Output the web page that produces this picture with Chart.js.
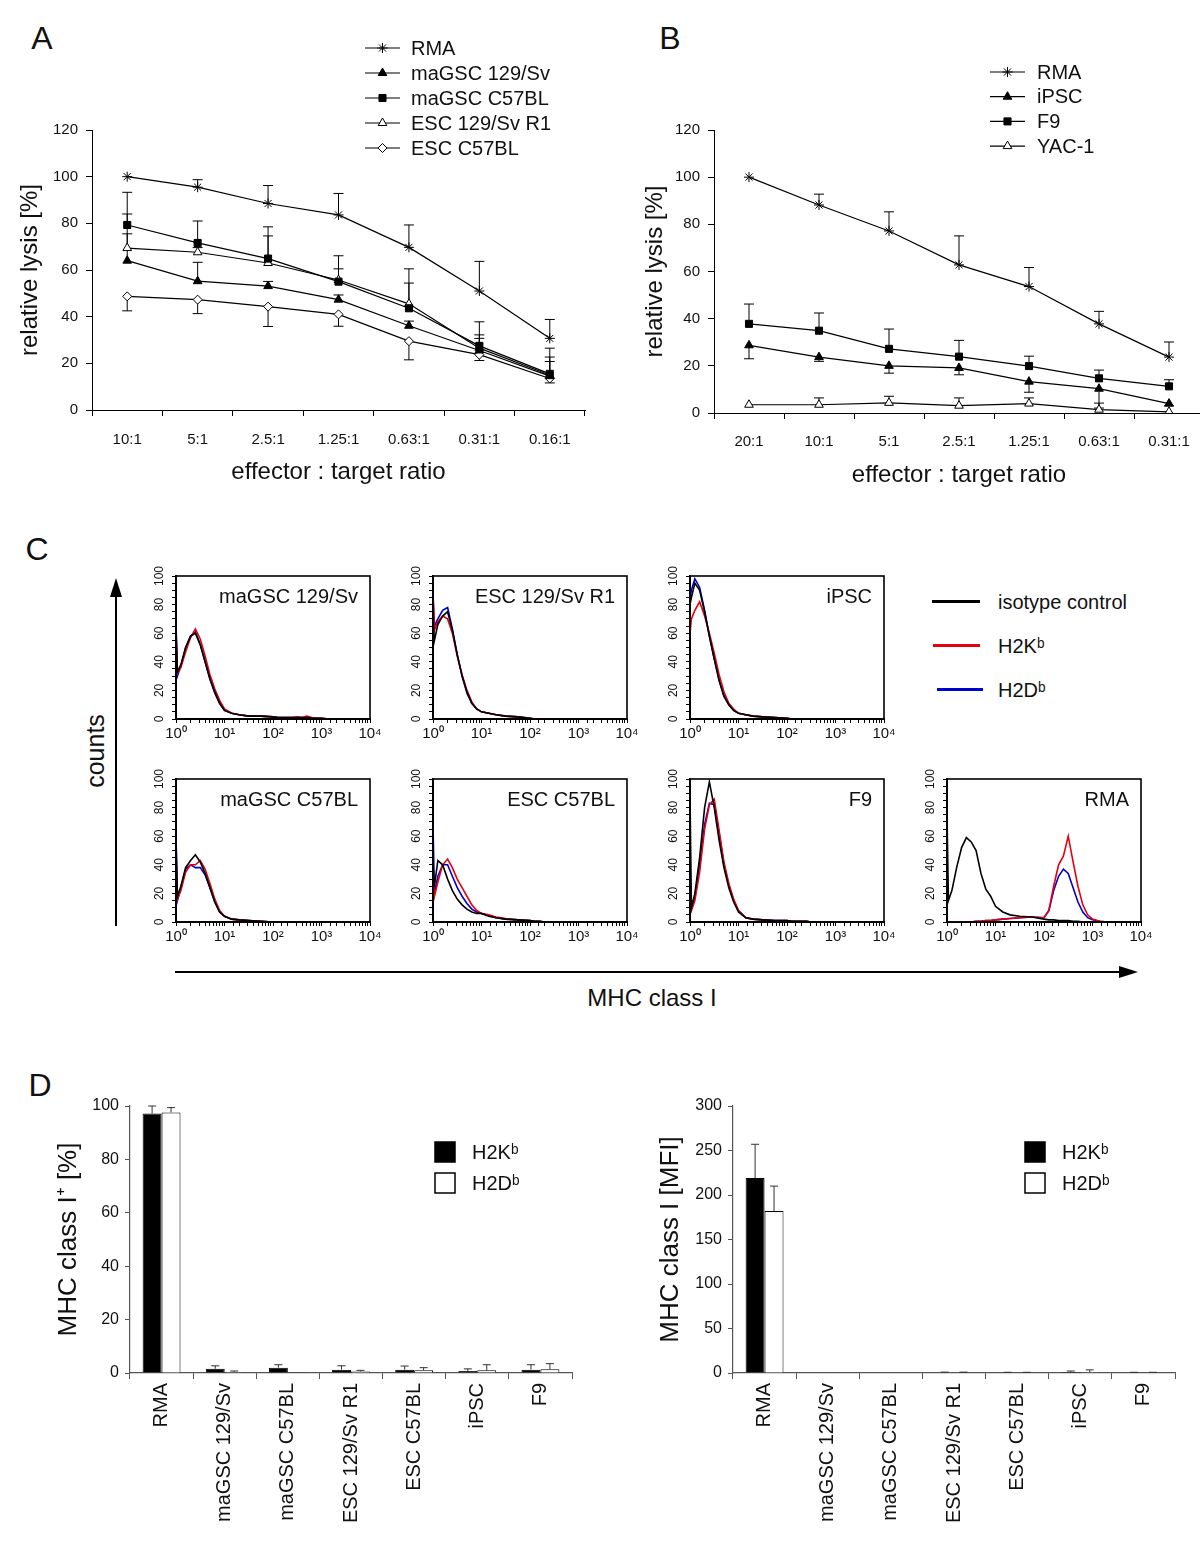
<!DOCTYPE html>
<html>
<head>
<meta charset="utf-8">
<script src="https://cdn.jsdelivr.net/npm/chart.js@4.4.1/dist/chart.umd.min.js"></script>
<style>
html, body { margin: 0; padding: 0; width: 1200px; height: 1549px; overflow: hidden; background: #fff; }
body { position: relative; font-family: "Liberation Sans", Arial, Helvetica, sans-serif; color: #111; }
canvas { position: absolute; }
.t { position: absolute; white-space: nowrap; transform: translate(-50%, -50%); line-height: 1; }
.l { position: absolute; white-space: nowrap; transform: translate(0, -50%); line-height: 1; }
.letter { font-size: 32px; }
.seg { position: absolute; height: 3px; }
</style>
</head>
<body>

<div class="t letter" style="left:42px;top:38px">A</div>
<div class="t letter" style="left:670px;top:38px">B</div>
<div class="t letter" style="left:37px;top:549px">C</div>
<div class="t letter" style="left:40px;top:1085px">D</div>

<canvas id="chartA" width="600" height="500" style="left:0;top:0"></canvas>
<canvas id="chartB" width="610" height="500" style="left:600px;top:0"></canvas>

<canvas id="h0" width="255" height="191"></canvas>
<canvas id="h1" width="255" height="191"></canvas>
<canvas id="h2" width="255" height="191"></canvas>
<canvas id="h3" width="255" height="191"></canvas>
<canvas id="h4" width="255" height="191"></canvas>
<canvas id="h5" width="255" height="191"></canvas>
<canvas id="h6" width="255" height="191"></canvas>

<!-- panel C legend and axis arrows -->
<div class="seg" style="left:932px;top:600px;width:48px;background:#000"></div>
<div class="seg" style="left:933px;top:644px;width:47px;background:#e3000f"></div>
<div class="seg" style="left:937px;top:688px;width:46px;background:#0000cc"></div>
<div class="l" style="left:998px;top:602px;font-size:20px">isotype control</div>
<div class="l" style="left:998px;top:646px;font-size:20px">H2Kᵇ</div>
<div class="l" style="left:998px;top:690px;font-size:20px">H2Dᵇ</div>
<div class="t" style="left:95px;top:751px;font-size:25px;transform:translate(-50%,-50%) rotate(-90deg)">counts</div>
<div class="t" style="left:652px;top:998px;font-size:24px">MHC class I</div>
<svg width="1200" height="1549" style="position:absolute;left:0;top:0">
  <line x1="116" y1="926" x2="116" y2="592" stroke="#000" stroke-width="2"/>
  <polygon points="116,578 110,597 122,597" fill="#000"/>
  <line x1="175" y1="972" x2="1124" y2="972" stroke="#000" stroke-width="2"/>
  <polygon points="1138,972 1119,966 1119,978" fill="#000"/>
</svg>

<canvas id="chartD1" width="600" height="459" style="left:0;top:1090px"></canvas>
<canvas id="chartD2" width="600" height="459" style="left:600px;top:1090px"></canvas>

<script>
// Panel A: relative lysis by effector : target ratio
const ratiosA = ['10:1', '5:1', '2.5:1', '1.25:1', '0.63:1', '0.31:1', '0.16:1'];
const rmaA = [100, 95.5, 88.5, 83.6, 69.7, 51, 30.7];
const rmaAErr = [0, 3.2, 7.7, 9.2, 9.6, 12.7, 8.1];
const magsc129A = [64, 55.2, 53.1, 47.3, 36.1, 25.5, 14.5];
const magsc129AErr = [11.5, 8.1, 2, 2, 2, 5.2, 6.3];
const magscB6A = [79.3, 71.6, 64.9, 55, 43.6, 27.5, 15.5];
const magscB6AErr = [14, 9.4, 13.6, 11.1, 16.9, 10.3, 11];
const esc129A = [69.4, 67.6, 63, 55.7, 45.5, 26.5, 15];
const esc129AErr = [14.6, 2, 11.6, 4.8, 8.9, 5.7, 7.7];
const escB6A = [48.7, 47.3, 44.3, 41, 29.5, 23.7, 13.5];
const escB6AErr = [6.2, 6, 8.5, 5.1, 8, 2.5, 1.9];   // drawn downwards

// Panel B
const ratiosB = ['20:1', '10:1', '5:1', '2.5:1', '1.25:1', '0.63:1', '0.31:1'];
const rmaB = [100, 88.2, 77.2, 62.8, 53.6, 37.8, 23.7];
const rmaBErr = [0, 4.6, 8.1, 12.3, 8.1, 5.3, 6.4];
const ipscB = [28.7, 23.7, 20, 19.1, 13.3, 10.3, 4];
const ipscBErr = [5.7, 1.8, 3.1, 2.9, 4.5, 8.2, 1];   // drawn downwards
const f9B = [37.8, 34.9, 27.2, 23.9, 19.9, 14.7, 11.3];
const f9BErr = [8.4, 7.5, 8.4, 6.9, 4.2, 3.5, 2.8];
const yacB = [3.5, 3.5, 4.3, 3.1, 4, 1.4, 0.5];
const yacBErr = [0, 2.9, 2.8, 3.3, 2.4, 2.8, 0];

// Panel C: flow histograms (counts at each fluorescence value)
const histNames = ['maGSC 129/Sv', 'ESC 129/Sv R1', 'iPSC', 'maGSC C57BL', 'ESC C57BL', 'F9', 'RMA'];
const histX = [1, 1.07, 1.26, 1.58, 2, 2.51, 3.16, 3.98, 5.01, 6.31, 7.94, 10, 14.1, 20, 31.6, 56.2, 100, 126, 158, 200, 251, 316, 398, 501, 631, 794, 1000, 1413, 1995, 3981, 10000];
const decadeTicks = ['10⁰', '10¹', '10²', '10³', '10⁴'];
const histYTicks = [0, 20, 40, 60, 80, 100];

const isoMagsc129 = [62, 33, 38, 50, 58, 60, 52, 40, 28, 19, 11, 6, 4, 3, 2, 2, 1.5, 1, 1, 1, 1, 1, 1, 1, 0.5, 0.5, 0.5, 0, 0, 0, 0];
const kbMagsc129 = [60, 32, 36, 47, 57, 63, 56, 44, 31, 21, 13, 7, 4, 3, 2, 2, 1.5, 1, 1, 1, 1, 1.5, 1, 2, 1, 0.5, 0.5, 0, 0, 0, 0];
const dbMagsc129 = [67, 30, 37, 50, 58, 61, 52, 40, 28, 18, 11, 6, 4, 3, 2, 2, 1.5, 1, 1, 1, 1, 1, 1, 1, 0.5, 0.5, 0.5, 0, 0, 0, 0];

const isoEsc129 = [70, 55, 66, 72, 75, 62, 45, 30, 19, 11, 7, 5, 4, 3, 2, 1.5, 0.5, 0, 0, 0, 0, 0, 0, 0, 0, 0, 0, 0, 0, 0, 0];
const kbEsc129 = [85, 62, 68, 72, 70, 60, 44, 31, 20, 12, 7, 5, 4, 3, 2, 1.5, 0.5, 0, 0, 0, 0, 0, 0, 0, 0, 0, 0, 0, 0, 0, 0];
const dbEsc129 = [88, 65, 70, 76, 78, 63, 45, 30, 18, 11, 7, 5, 4, 3, 2, 1.5, 0.5, 0, 0, 0, 0, 0, 0, 0, 0, 0, 0, 0, 0, 0, 0];

const isoIpsc = [80, 85, 95, 90, 75, 58, 42, 27, 16, 10, 6, 4, 3, 2, 1.5, 1, 0.5, 0, 0, 0, 0, 0, 0, 0, 0, 0, 0, 0, 0, 0, 0];
const kbIpsc = [60, 70, 76, 82, 72, 60, 46, 31, 19, 11, 7, 4, 3, 2, 1.5, 1, 0.5, 0, 0, 0, 0, 0, 0, 0, 0, 0, 0, 0, 0, 0, 0];
const dbIpsc = [85, 90, 98, 92, 76, 58, 42, 27, 16, 10, 6, 4, 3, 2, 1.5, 1, 0.5, 0, 0, 0, 0, 0, 0, 0, 0, 0, 0, 0, 0, 0, 0];

const isoMagscB6 = [55, 18, 25, 38, 43, 47, 42, 34, 24, 14, 7, 4, 2, 1.5, 1, 0.5, 0, 0, 0, 0, 0, 0, 0, 0, 0, 0, 0, 0, 0, 0, 0];
const kbMagscB6 = [50, 16, 22, 35, 40, 40, 43, 37, 27, 16, 8, 4, 2, 1.5, 1, 0.5, 0, 0, 0, 0, 0, 0, 0, 0, 0, 0, 0, 0, 0, 0, 0];
const dbMagscB6 = [61, 15, 24, 37, 40, 38, 38, 33, 24, 14, 7, 4, 2, 1.5, 1, 0.5, 0, 0, 0, 0, 0, 0, 0, 0, 0, 0, 0, 0, 0, 0, 0];

const isoEscB6 = [40, 25, 43, 40, 30, 22, 16, 12, 9, 7, 6, 6, 4, 3, 2, 1.5, 1, 0.5, 0.5, 0, 0, 0, 0, 0, 0, 0, 0, 0, 0, 0, 0];
const kbEscB6 = [30, 18, 28, 40, 44, 38, 30, 24, 18, 12, 8, 6, 5, 3.5, 2.5, 1.5, 1, 0.5, 0.5, 0, 0, 0, 0, 0, 0, 0, 0, 0, 0, 0, 0];
const dbEscB6 = [68, 20, 32, 40, 40, 32, 24, 18, 13, 9, 7, 6, 4.5, 3, 2, 1.5, 1, 0.5, 0.5, 0, 0, 0, 0, 0, 0, 0, 0, 0, 0, 0, 0];

const isoF9 = [88, 10, 20, 45, 80, 98, 80, 57, 38, 24, 14, 7, 3, 2, 1.5, 1, 1, 0.5, 0.5, 0.5, 0.5, 0, 0, 0, 0, 0, 0, 0, 0, 0, 0];
const kbF9 = [20, 8, 15, 35, 65, 82, 86, 64, 42, 27, 16, 8, 3, 2, 1.5, 1, 1, 0.5, 0.5, 0.5, 0.5, 0, 0, 0, 0, 0, 0, 0, 0, 0, 0];
const dbF9 = [25, 10, 18, 40, 68, 83, 82, 62, 40, 26, 15, 8, 3, 2, 1.5, 1, 1, 0.5, 0.5, 0.5, 0.5, 0, 0, 0, 0, 0, 0, 0, 0, 0, 0];

const isoRma = [75, 15, 22, 38, 52, 59, 56, 50, 34, 23, 18, 11, 7, 5, 4, 3.5, 2, 1.5, 1.5, 1, 1, 1, 0.5, 0.5, 0, 0, 0, 0, 0, 0, 0];
const kbRma = [0, 0, 0, 0, 0, 0, 0, 0.5, 0.5, 1, 1, 1.5, 2, 2.5, 3, 3.5, 3, 8, 25, 40, 46, 60, 42, 25, 12, 5, 2, 0.5, 0, 0, 0];
const dbRma = [0, 0, 0, 0, 0, 0, 0, 0.5, 0.5, 1, 1, 1.5, 2, 2.5, 3, 3.5, 3, 8, 22, 32, 37, 34, 24, 14, 7, 3, 1.5, 0.5, 0, 0, 0];

// Panel D
const cellLines = ['RMA', 'maGSC 129/Sv', 'maGSC C57BL', 'ESC 129/Sv R1', 'ESC C57BL', 'iPSC', 'F9'];
const pctKb = [97.2, 1.6, 2.0, 1.25, 1.25, 0.75, 1.25];
const pctKbErr = [2.8, 1.1, 1.1, 1.45, 1.35, 0.8, 1.85];
const pctDb = [97.6, 0.4, 0.25, 0.6, 1.0, 1.0, 1.4];
const pctDbErr = [1.8, 0.35, 0, 0.4, 1.0, 2.1, 2.1];
const mfiKb = [219, 0, 0, 0.6, 0.5, 1.2, 0.5];
const mfiKbErr = [38, 0, 0, 0.4, 0.3, 1, 0.3];
const mfiDb = [182, 0, 0, 0.6, 0.5, 1, 0.5];
const mfiDbErr = [28, 0, 0, 0.4, 0.3, 2.5, 0.3];

const FONT = '"Liberation Sans", Arial, Helvetica, sans-serif';
Chart.defaults.font.family = FONT;
Chart.defaults.color = '#111';
Chart.defaults.animation = false;
Chart.defaults.plugins.legend.display = false;
Chart.defaults.plugins.tooltip.enabled = false;

// vertical error bars, one direction per dataset
const errorBars = {
  id: 'errorBars',
  beforeDatasetsDraw(chart, args, opts) {
    const ctx = chart.ctx, ys = chart.scales.y;
    chart.data.datasets.forEach((ds, i) => {
      if (!ds.errors) return;
      const meta = chart.getDatasetMeta(i);
      ctx.save();
      ctx.strokeStyle = opts.color || '#000';
      ctx.lineWidth = 1;
      meta.data.forEach((el, j) => {
        const e = ds.errors[j];
        if (!e) return;
        const v = ds.data[j];
        const y0 = ys.getPixelForValue(v);
        const y1 = ys.getPixelForValue(v + (ds.errDir || 1) * e);
        const cap = opts.cap || 5;
        ctx.beginPath();
        ctx.moveTo(el.x, y0);
        ctx.lineTo(el.x, y1);
        ctx.moveTo(el.x - cap, y1);
        ctx.lineTo(el.x + cap, y1);
        ctx.stroke();
      });
      ctx.restore();
    });
  }
};

// legend: short line with the marker on it
const lineLegend = {
  id: 'lineLegend',
  afterDraw(chart, args, opts) {
    const ctx = chart.ctx;
    ctx.save();
    ctx.font = '20px ' + FONT;
    ctx.textBaseline = 'middle';
    chart.data.datasets.forEach((ds, i) => {
      const y = opts.y + i * opts.dy;
      ctx.strokeStyle = '#000';
      ctx.lineWidth = 1.2;
      ctx.beginPath();
      ctx.moveTo(opts.x, y);
      ctx.lineTo(opts.x + opts.len, y);
      ctx.stroke();
      ctx.fillStyle = ds.pointBackgroundColor;
      ctx.lineWidth = 1;
      if (Chart.helpers && Chart.helpers.drawPoint) {
        Chart.helpers.drawPoint(ctx, { pointStyle: ds.pointStyle, radius: ds.pointRadius, rotation: 0, borderWidth: 1 }, opts.x + opts.len / 2, y);
      }
      ctx.fillStyle = '#111';
      ctx.fillText(ds.label, opts.textX, y + 1);
    });
    ctx.restore();
  }
};

// legend: filled / open squares
const boxLegend = {
  id: 'boxLegend',
  afterDraw(chart, args, opts) {
    const ctx = chart.ctx;
    ctx.save();
    ctx.font = '20px ' + FONT;
    ctx.textBaseline = 'middle';
    chart.data.datasets.forEach((ds, i) => {
      const y = opts.y + i * opts.dy;
      ctx.fillStyle = ds.backgroundColor;
      ctx.fillRect(opts.x, y, opts.size, opts.size);
      ctx.strokeStyle = '#000';
      ctx.lineWidth = 1.5;
      ctx.strokeRect(opts.x, y, opts.size, opts.size);
      ctx.fillStyle = '#111';
      ctx.fillText(ds.label, opts.textX, y + opts.size / 2 + 1);
    });
    ctx.restore();
  }
};

// histogram helpers
const frame = {
  id: 'frame',
  afterDraw(chart) {
    const a = chart.chartArea, ctx = chart.ctx;
    ctx.save();
    ctx.strokeStyle = '#000';
    ctx.lineWidth = 1.6;
    ctx.strokeRect(a.left, a.top, a.right - a.left, a.bottom - a.top);
    ctx.restore();
  }
};
const rotYTicks = {
  id: 'rotYTicks',
  afterDraw(chart) {
    const ctx = chart.ctx, ys = chart.scales.y, left = chart.chartArea.left;
    ctx.save();
    ctx.font = '12px ' + FONT;
    ctx.fillStyle = '#111';
    ctx.textAlign = 'center';
    ctx.textBaseline = 'middle';
    histYTicks.forEach(v => {
      ctx.save();
      ctx.translate(left - 16, ys.getPixelForValue(v));
      ctx.rotate(-Math.PI / 2);
      ctx.fillText(String(v), 0, 0);
      ctx.restore();
    });
    ctx.restore();
  }
};
const histTitle = {
  id: 'histTitle',
  afterDraw(chart, args, opts) {
    const ctx = chart.ctx, a = chart.chartArea;
    ctx.save();
    ctx.font = '20px ' + FONT;
    ctx.fillStyle = '#111';
    ctx.textAlign = 'right';
    ctx.textBaseline = 'middle';
    ctx.fillText(opts.text, a.right - 12, a.top + 21);
    ctx.restore();
  }
};

function lysisSet(label, data, errors, errDir, style, fill, radius) {
  return {
    label: label, data: data, errors: errors, errDir: errDir,
    borderColor: '#000', borderWidth: 1.2, tension: 0, fill: false,
    pointStyle: style, pointRadius: radius, pointBackgroundColor: fill,
    backgroundColor: fill, pointBorderColor: '#000', pointBorderWidth: 1
  };
}

function lysisOptions(yWidth, xHeight, padRight, yTitlePad, xTitlePad, tickPad, legend) {
  return {
    responsive: false,
    layout: { padding: { left: 0, top: 130, right: padRight, bottom: 0 } },
    scales: {
      x: {
        type: 'category', offset: true,
        grid: { offset: true, drawOnChartArea: false, tickLength: 6, color: '#000' },
        border: { color: '#000', width: 1 },
        ticks: { font: { size: 15 }, padding: tickPad, maxRotation: 0, autoSkip: false },
        title: { display: true, text: 'effector : target ratio', font: { size: 24 }, padding: { top: 0, bottom: xTitlePad } },
        afterFit(s) { s.height = xHeight; }
      },
      y: {
        min: 0, max: 120,
        ticks: { stepSize: 20, font: { size: 15 }, padding: 8 },
        grid: { drawOnChartArea: false, tickLength: 6, color: '#000' },
        border: { color: '#000', width: 1 },
        title: { display: true, text: 'relative lysis [%]', font: { size: 24 }, padding: { top: yTitlePad, bottom: 0 } },
        afterFit(s) { s.width = yWidth; }
      }
    },
    plugins: { lineLegend: legend, errorBars: { cap: 5 } }
  };
}

new Chart(document.getElementById('chartA'), {
  type: 'line',
  data: {
    labels: ratiosA,
    datasets: [
      lysisSet('RMA', rmaA, rmaAErr, 1, 'star', '#000', 5),
      lysisSet('maGSC 129/Sv', magsc129A, magsc129AErr, 1, 'triangle', '#000', 5),
      lysisSet('maGSC C57BL', magscB6A, magscB6AErr, 1, 'rect', '#000', 5),
      lysisSet('ESC 129/Sv R1', esc129A, esc129AErr, 1, 'triangle', '#fff', 5),
      lysisSet('ESC C57BL', escB6A, escB6AErr, -1, 'rectRot', '#fff', 4.5)
    ]
  },
  options: lysisOptions(92, 90, 15, 16, 13, 15, { x: 365, y: 48, dy: 25, len: 35, textX: 411 }),
  plugins: [errorBars, lineLegend]
});

new Chart(document.getElementById('chartB'), {
  type: 'line',
  data: {
    labels: ratiosB,
    datasets: [
      lysisSet('RMA', rmaB, rmaBErr, 1, 'star', '#000', 5),
      lysisSet('iPSC', ipscB, ipscBErr, -1, 'triangle', '#000', 5),
      lysisSet('F9', f9B, f9BErr, 1, 'rect', '#000', 5),
      lysisSet('YAC-1', yacB, yacBErr, 1, 'triangle', '#fff', 5)
    ]
  },
  options: lysisOptions(114, 87, 2, 41, 10, 14, { x: 390, y: 72, dy: 24.7, len: 35, textX: 437 }),
  plugins: [errorBars, lineLegend]
});

// Panel C histograms
const histSeries = [
  [isoMagsc129, kbMagsc129, dbMagsc129],
  [isoEsc129, kbEsc129, dbEsc129],
  [isoIpsc, kbIpsc, dbIpsc],
  [isoMagscB6, kbMagscB6, dbMagscB6],
  [isoEscB6, kbEscB6, dbEscB6],
  [isoF9, kbF9, dbF9],
  [isoRma, kbRma, dbRma]
];
const histBoxes = [[176, 576], [433, 576], [690, 576], [176, 779], [433, 779], [690, 779], [947, 779]];
const histColors = ['#000000', '#e3000f', '#0000cc'];

function decadeLabel(v) {
  const p = Math.log10(v);
  return Math.abs(p - Math.round(p)) < 1e-6 ? decadeTicks[Math.round(p)] : '';
}

histSeries.forEach((series, idx) => {
  const cv = document.getElementById('h' + idx);
  cv.style.left = (histBoxes[idx][0] - 45) + 'px';
  cv.style.top = (histBoxes[idx][1] - 12) + 'px';
  new Chart(cv, {
    type: 'line',
    data: {
      datasets: series.map((arr, k) => ({
        data: histX.map((x, i) => ({ x: x, y: arr[i] })),
        borderColor: histColors[k], borderWidth: 1.6, pointRadius: 0, tension: 0, fill: false
      }))
    },
    options: {
      responsive: false,
      layout: { padding: { left: 0, top: 12, right: 16, bottom: 0 } },
      scales: {
        x: {
          type: 'logarithmic', min: 1, max: 10000,
          ticks: { autoSkip: false, maxRotation: 0, font: { size: 15 }, padding: 2, callback: v => decadeLabel(v) },
          grid: { drawOnChartArea: false, tickLength: 4, color: '#000' },
          border: { color: '#000', width: 2 },
          afterFit(s) { s.height = 36; }
        },
        y: {
          min: 0, max: 100,
          ticks: { display: false, stepSize: 5 },
          grid: { drawOnChartArea: false, tickLength: 4, color: '#000' },
          border: { color: '#000', width: 2 },
          afterFit(s) { s.width = 45; }
        }
      },
      plugins: { histTitle: { text: histNames[idx] } }
    },
    plugins: [frame, rotYTicks, histTitle]
  });
});

// Panel D bar charts
function mhcChart(id, kb, kbErr, db, dbErr, yMax, yStep, yTitle, yWidth, padRight, titlePad, legend) {
  new Chart(document.getElementById(id), {
    type: 'bar',
    data: {
      labels: cellLines,
      datasets: [
        { label: 'H2Kᵇ', data: kb, errors: kbErr, backgroundColor: '#000', borderColor: '#000', borderWidth: 1, categoryPercentage: 0.6, barPercentage: 1.0 },
        { label: 'H2Dᵇ', data: db, errors: dbErr, backgroundColor: '#fff', borderColor: '#000', borderWidth: 1, categoryPercentage: 0.6, barPercentage: 1.0 }
      ]
    },
    options: {
      responsive: false,
      layout: { padding: { left: 0, top: 16, right: padRight, bottom: 0 } },
      scales: {
        x: {
          grid: { offset: true, drawOnChartArea: false, tickLength: 6, color: '#555' },
          border: { color: '#555', width: 1.2 },
          ticks: { font: { size: 20 }, minRotation: 90, maxRotation: 90, autoSkip: false, padding: 4 },
          afterFit(s) { s.height = 176; }
        },
        y: {
          min: 0, max: yMax,
          ticks: { stepSize: yStep, font: { size: 16 }, padding: 6 },
          grid: { drawOnChartArea: false, tickLength: 5, color: '#555' },
          border: { color: '#555', width: 1.2 },
          title: { display: true, text: yTitle, font: { size: 26 }, padding: { top: titlePad, bottom: 0 } },
          afterFit(s) { s.width = yWidth; }
        }
      },
      plugins: { errorBars: { cap: 4, color: '#333' }, boxLegend: legend }
    },
    plugins: [errorBars, boxLegend]
  });
}

mhcChart('chartD1', pctKb, pctKbErr, pctDb, pctDbErr, 100, 20, 'MHC class I⁺ [%]', 130, 28, 53, { x: 435, y: 52, dy: 31, size: 20, textX: 472 });
mhcChart('chartD2', mfiKb, mfiKbErr, mfiDb, mfiDbErr, 300, 50, 'MHC class I [MFI]', 133, 25, 55, { x: 425, y: 52, dy: 31, size: 20, textX: 462 });
</script>
</body>
</html>
